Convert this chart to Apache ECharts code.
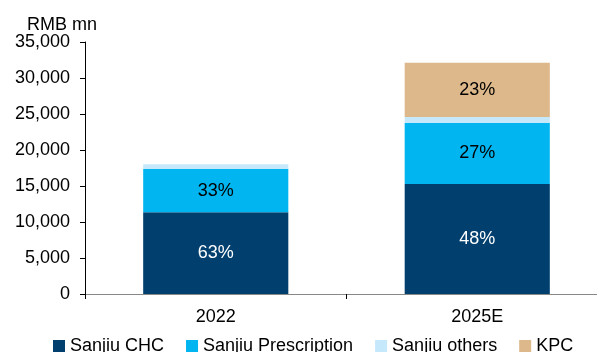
<!DOCTYPE html>
<html>
<head>
<meta charset="utf-8">
<script src="https://cdn.jsdelivr.net/npm/echarts@6/dist/echarts.min.js"></script>
<style>
  html, body { margin: 0; padding: 0; background: #fff; }
  #chart1 { width: 597px; height: 352px; }
</style>
</head>
<body>
<div id="chart1"></div>
<script>
// data (RMB mn)
var years = ['2022', '2025E'];
var chc = [11350, 15280];
var prescription = [6010, 8510];
var others = [650, 790];
var kpc = [null, 7540];
// share labels shown inside the bars
var chcShare = ['63%', '48%'];
var prescShare = ['33%', '27%'];
var kpcShare = ['', '23%'];

var dom1 = document.getElementById('chart1');
var Chart1 = echarts.init(dom1);

function shareLabel(arr, color) {
    return {
        show: true,
        position: 'inside',
        color: color,
        fontSize: 18,
        fontFamily: 'Liberation Sans',
        formatter: function (p) { return arr[p.dataIndex]; }
    };
}

var option1 = {
    animation: false,
    textStyle: { fontFamily: 'Liberation Sans' },
    title: {
        text: 'RMB mn',
        left: 22,
        top: 11,
        textStyle: { fontSize: 18, fontWeight: 'normal', color: '#000' }
    },
    legend: {
        bottom: -8,
        left: 48,
        icon: 'rect',
        itemWidth: 12,
        itemHeight: 12,
        itemGap: 22,
        textStyle: { fontSize: 18, color: '#000' },
        data: ['Sanjiu CHC', 'Sanjiu Prescription', 'Sanjiu others', 'KPC']
    },
    grid: {
        left: 85,
        width: 523,
        top: 42,
        bottom: 58,
        outerBoundsMode: 'none'
    },
    xAxis: {
        type: 'category',
        data: years,
        axisLine: { lineStyle: { color: '#888', width: 1 } },
        axisTick: { show: true, length: 5, lineStyle: { color: '#000' } },
        axisLabel: { fontSize: 18, color: '#000', margin: 14 }
    },
    yAxis: {
        type: 'value',
        min: 0,
        max: 35000,
        interval: 5000,
        axisLine: { show: true, lineStyle: { color: '#000' } },
        axisTick: { show: true, length: 5, lineStyle: { color: '#000' } },
        splitLine: { show: false },
        axisLabel: {
            fontSize: 18,
            color: '#000',
            margin: 15,
            formatter: function (v) { return v.toLocaleString('en-US'); }
        }
    },
    series: [
        {
            name: 'Sanjiu CHC', type: 'bar', stack: 'total', barWidth: '55.5%',
            itemStyle: { color: '#003f6e' },
            label: shareLabel(chcShare, '#fff'),
            data: chc
        },
        {
            name: 'Sanjiu Prescription', type: 'bar', stack: 'total',
            itemStyle: { color: '#00b5f0' },
            label: shareLabel(prescShare, '#000'),
            data: prescription
        },
        {
            name: 'Sanjiu others', type: 'bar', stack: 'total',
            itemStyle: { color: '#c5e8fb' },
            data: others
        },
        {
            name: 'KPC', type: 'bar', stack: 'total',
            itemStyle: { color: '#dcb88a' },
            label: shareLabel(kpcShare, '#000'),
            data: kpc
        }
    ]
};

Chart1.setOption(option1);
</script>
</body>
</html>
